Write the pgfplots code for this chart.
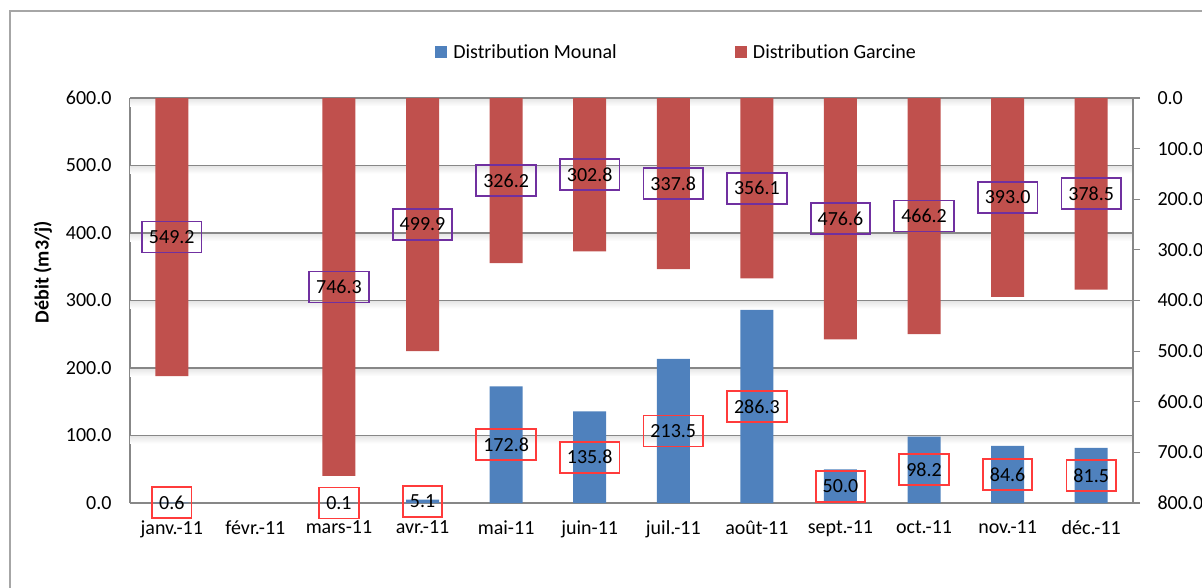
\documentclass[border=0pt]{standalone}
\usepackage{fontspec}
\setmainfont{Carlito}[Ligatures=NoCommon]
\usepackage{pgfplots}
\pgfplotsset{compat=1.18}
\definecolor{mblue}{HTML}{4F81BD}
\definecolor{gred}{HTML}{C0504D}
\definecolor{lblbox}{HTML}{FF3B3B}
\definecolor{purp}{HTML}{7030A0}
\definecolor{gridc}{HTML}{878787}
\definecolor{framec}{HTML}{A6A6A6}
\newcommand{\cf}{\fontsize{20}{24}\selectfont}

\pgfplotstableread{
x y
0 0.6
2 0.1
3 5.1
4 172.8
5 135.8
6 213.5
7 286.3
8 50.0
9 98.2
10 84.6
11 81.5
}\mounal

\pgfplotstableread{
x y
0 549.2
2 746.3
3 499.9
4 326.2
5 302.8
6 337.8
7 356.1
8 476.6
9 466.2
10 393.0
11 378.5
}\garcine

\begin{document}
\begin{tikzpicture}[font=\cf]
\useasboundingbox (0,0) rectangle (1202pt,587pt);
\draw[framec, line width=1.3pt] (10pt,-20pt) rectangle (1240pt,576pt);
\pgfplotsset{
  common/.style={
    at={(130pt,84pt)}, anchor=south west, scale only axis,
    width=1003pt, height=405pt,
    xmin=-0.5, xmax=11.5,
    ybar, bar width=33pt,
    /pgf/number format/assume math mode=true,
    /pgf/number format/fixed,
    /pgf/number format/fixed zerofill,
    /pgf/number format/precision=1,
    tick label style={font=\cf},
    axis line style={gridc, line width=1.2pt},
    nodes near coords,
    point meta=y,
    visualization depends on={y/2 \as \halfy},
  }
}
\begin{axis}[common,
  ymin=0, ymax=600, ytick={0,100,...,600},
  axis x line*=bottom, axis y line*=left,
  xtick={0,...,11},
  xticklabels={janv.-11, févr.-11, mars-11, avr.-11, mai-11, juin-11, juil.-11, août-11, sept.-11, oct.-11, nov.-11, déc.-11},
  xtick style={draw=none}, ytick style={draw=none},
  xticklabel style={yshift=-10pt},
  yticklabel style={xshift=-15pt},
  ymajorgrids, grid style={gridc, line width=1.4pt},
  every node near coord/.append style={font=\cf, anchor=center, color=lblbox, text=black, draw, line width=1.8pt,
    inner xsep=7pt, inner ysep=2pt, minimum height=31pt,
    shift={(axis direction cs:0,-\halfy)}},
]
\pgfplotsinvokeforeach{100,200,...,600}{
  \shade[top color=black!9, bottom color=white, draw=none] (axis cs:-0.5,#1-1.6) rectangle (axis cs:11.5,#1-12);
}
\addplot[fill=mblue, draw=none, bar shift=0pt] table[x=x,y=y] {\mounal};
\end{axis}
\begin{axis}[common,
  ymin=0, ymax=800, ytick={0,100,...,800}, y dir=reverse,
  axis y line*=right, axis x line=none,
  tick align=outside, major tick length=7pt,
  ytick style={gridc, line width=1.2pt},
  yticklabel style={xshift=14pt},
  every node near coord/.append style={font=\cf, anchor=center, color=purp, text=black, draw, line width=1.8pt,
    inner xsep=7pt, inner ysep=2pt, minimum height=31pt,
    shift={(axis direction cs:0,-\halfy)}},
  legend columns=2,
  legend style={at={(rel axis cs:0.301,1.114)}, anchor=west, draw=none, fill=none, font=\cf,
    /tikz/every even column/.append style={column sep=116pt}},
]
\addlegendimage{legend image code/.code={\fill[mblue] (0pt,-5.5pt) rectangle (11pt,5.5pt); \path[draw=none, fill=none] (0pt,0pt) rectangle (16pt,0.1pt);}}
\addlegendimage{legend image code/.code={\fill[gred] (0pt,-5.5pt) rectangle (11pt,5.5pt); \path[draw=none, fill=none] (0pt,0pt) rectangle (16pt,0.1pt);}}
\addplot[fill=gred, draw=none, bar shift=0pt, forget plot] table[x=x,y=y] {\garcine};
\legend{Distribution Mounal, Distribution Garcine}
\end{axis}
\node[rotate=90, font=\cf\bfseries] at (43pt,315pt) {Débit (m3/j)};
\end{tikzpicture}
\end{document}
